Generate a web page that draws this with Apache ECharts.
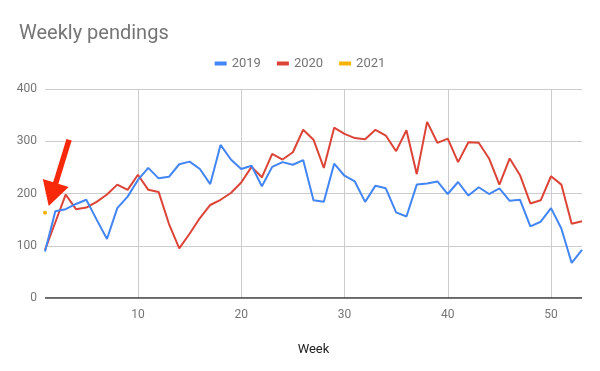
<!DOCTYPE html>
<html><head><meta charset="utf-8">
<script src="https://cdn.jsdelivr.net/npm/echarts@6/dist/echarts.min.js"></script>
<style>html,body{margin:0;padding:0;background:#fff}#c{width:600px;height:371px}</style>
</head><body><div id="c"></div>
<script>
const weeks = Array.from({length: 53}, (_, i) => i + 1);
const v2019 = [89,166,170,180,188,150,113,172,194,226,249,229,232,256,261,247,218,293,265,247,253,214,251,260,255,264,187,184,257,234,223,184,215,210,164,156,217,219,223,199,222,196,212,199,210,186,188,137,146,172,133,67,92];
const v2020 = [92,145,198,170,173,184,198,217,207,236,207,203,142,95,123,153,178,188,201,221,251,231,276,265,279,322,303,249,326,314,306,304,322,311,281,321,237,337,297,305,260,298,297,267,217,267,235,181,187,233,217,142,147];
const v2021 = [163];
const xTicks = [10,20,30,40,50];
const yTicks = [0,100,200,300,400];

const pairs = arr => arr.map((v, i) => [weeks[i], v]);
const chart = echarts.init(document.getElementById('c'), null, {renderer: 'canvas'});
const font = 'Roboto, Arial, sans-serif';
chart.setOption({
  animation: false,
  title: {text: 'Weekly pendings', left: 14, top: 19,
    textStyle: {fontFamily: font, fontSize: 20, fontWeight: 'normal', color: '#757575'}},
  legend: {top: 52, left: 'center', itemWidth: 12, itemHeight: 4, itemGap: 16, icon: 'rect',
    textStyle: {fontFamily: font, fontSize: 13, color: '#757575'},
    data: ['2019','2020','2021']},
  grid: {left: 45, right: 18, top: 89, bottom: 73},
  xAxis: {type: 'value', min: 1, max: 53, name: 'Week', nameLocation: 'middle', nameGap: 45,
    nameTextStyle: {fontFamily: font, fontSize: 13, color: '#222'},
    axisLine: {show: false}, axisTick: {show: false, customValues: xTicks},
    axisLabel: {customValues: xTicks, fontFamily: font, fontSize: 12, color: '#757575', margin: 11},
    splitLine: {show: true, lineStyle: {color: '#cccccc', width: 1}}},
  yAxis: {type: 'value', min: 0, max: 400, interval: 100,
    axisLine: {show: false}, axisTick: {show: false},
    axisLabel: {fontFamily: font, fontSize: 12, color: '#757575', margin: 8},
    splitLine: {lineStyle: {color: '#cccccc', width: 1}}},
  series: [
    {name: '2019', type: 'line', data: pairs(v2019), color: '#4285F4', showSymbol: false,
     lineStyle: {width: 2}, z: 3},
    {name: '2020', type: 'line', data: pairs(v2020), color: '#DB4437', showSymbol: false,
     lineStyle: {width: 2}, z: 2},
    {name: '2021', type: 'line', data: pairs(v2021), color: '#F4B400', showSymbol: true,
     symbol: 'circle', symbolSize: 4, lineStyle: {width: 2}, z: 4,
     markLine: {silent: true, symbol: ['none', 'triangle'], symbolSize: [27, 24],
       label: {show: false}, lineStyle: {color: '#f7290a', width: 5.5, type: 'solid'},
       emphasis: {disabled: true},
       data: [[{coord: [3.33, 303]}, {coord: [1.7, 198]}]]}},
    {name: 'axis', type: 'line', data: [[1, 0], [53, 0]], showSymbol: false, silent: true,
     color: '#333', lineStyle: {width: 1.5}, z: 5, legendHoverLink: false}
  ]
});
</script></body></html>
